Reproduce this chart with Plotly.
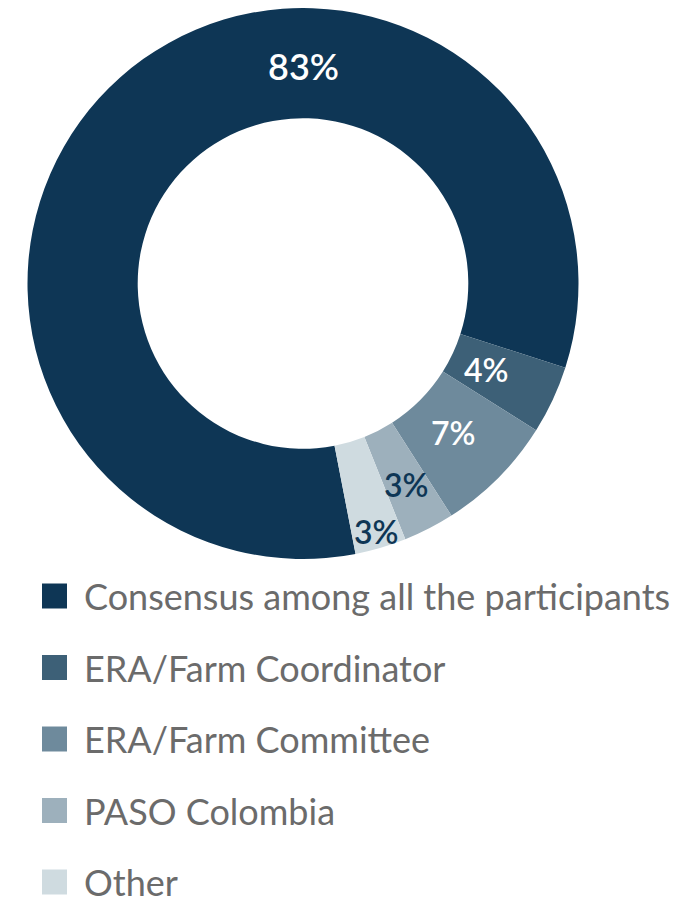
import math
import plotly.graph_objects as go

labels = ["Consensus among all the participants", "ERA/Farm Coordinator",
          "ERA/Farm Committee", "PASO Colombia", "Other"]
values = [83, 4, 7, 3, 3]
colors = ["#0e3655", "#3d6077", "#6e8a9c", "#9db0bc", "#cfdbe0"]
text_colors = ["#ffffff", "#ffffff", "#ffffff", "#0e3655", "#0e3655"]

# the page body has an 8px margin; work in page pixels and shift
OFF = 8
W, H = 695 - OFF, 898 - OFF

def px(x):
    return (x - OFF) / W

def py(y):
    return min(1.0, max(0.0, 1 - (y - OFF) / H))

# pie geometry (page pixels)
cx, cy, R = 303, 283.5, 275.5
hole = 0.6
rotation = 169

fig = go.Figure(go.Pie(
    labels=labels, values=values, textinfo="none",
    marker=dict(colors=colors, line=dict(width=0)),
    hole=hole, sort=False, direction="clockwise", rotation=rotation,
    domain=dict(x=[px(cx - R), px(cx + R)], y=[py(cy + R), py(cy - R)]),
    showlegend=False, hoverinfo="label+percent",
))

# percentage labels: small slices at their mid-angle, large slice at the top
label_radius = [0.79, 0.735, 0.77, 0.82, 0.94]   # fraction of outer radius
label_size = [36, 32, 32, 32, 32]
total = sum(values)
cum = 0
for i, v in enumerate(values):
    if i == 0:
        ang = 0.0
    else:
        ang = rotation + 360 * (cum + v / 2) / total
    cum += v
    r = label_radius[i] * R
    a = math.radians(ang)
    fig.add_annotation(x=px(cx + r * math.sin(a)), y=py(cy - r * math.cos(a)),
                       xref="paper", yref="paper", text=f"{v}%", showarrow=False,
                       xanchor="center", yanchor="middle",
                       font=dict(family="Lato", size=label_size[i],
                                 color=text_colors[i], weight=600))

# legend
leg_top, leg_step, sq = 596, 71.5, 25
for i, (lab, col) in enumerate(zip(labels, colors)):
    yc = leg_top + i * leg_step
    fig.add_shape(type="rect", xref="paper", yref="paper",
                  x0=px(42), x1=px(42 + sq),
                  y0=py(yc + sq / 2), y1=py(yc - sq / 2),
                  fillcolor=col, line=dict(width=0))
    fig.add_annotation(x=px(82), y=py(yc), xref="paper", yref="paper",
                       text=lab, showarrow=False, xanchor="left", yanchor="middle",
                       font=dict(family="Lato", size=36, color="#6b6b6b"))

fig.update_layout(width=W, height=H, margin=dict(l=0, r=0, t=0, b=0),
                  paper_bgcolor="#ffffff", plot_bgcolor="#ffffff")
fig.write_html("out.html")
